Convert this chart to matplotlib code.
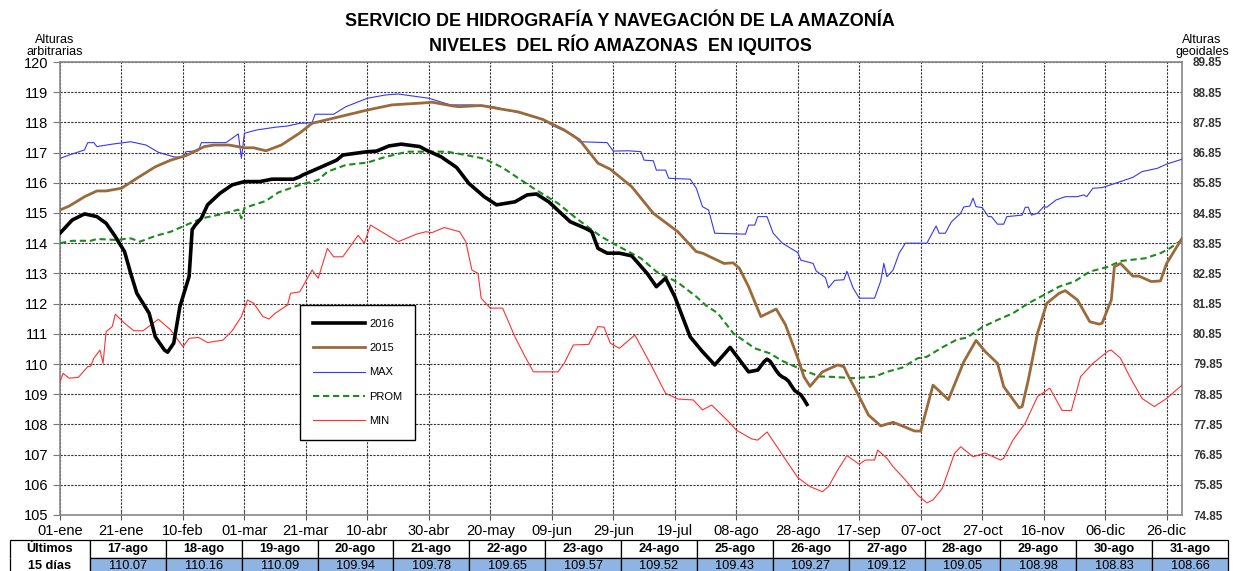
import numpy as np
import matplotlib
matplotlib.use("Agg")
from matplotlib import pyplot as plt

plt.rcParams['font.family'] = ['Liberation Sans', 'DejaVu Sans']

# tick labels along the year (2016, leap year), every 20 days
tick_days = list(range(0, 361, 20))
tick_labels = ["01-ene", "21-ene", "10-feb", "01-mar", "21-mar", "10-abr", "30-abr",
               "20-may", "09-jun", "29-jun", "19-jul", "08-ago", "28-ago", "17-sep",
               "07-oct", "27-oct", "16-nov", "06-dic", "26-dic"]

# last 15 days table (17-ago .. 31-ago)
tail_dates = ["17-ago", "18-ago", "19-ago", "20-ago", "21-ago", "22-ago", "23-ago", "24-ago",
              "25-ago", "26-ago", "27-ago", "28-ago", "29-ago", "30-ago", "31-ago"]
tail_values = [110.07, 110.16, 110.09, 109.94, 109.78, 109.65, 109.57, 109.52,
               109.43, 109.27, 109.12, 109.05, 108.98, 108.83, 108.66]
tail_days = list(range(229, 244))

d2016 = [0, 4, 8, 12, 15, 18, 21, 23, 25, 29, 31, 34, 35, 37, 39, 42, 43, 44, 46, 48, 52, 56,
         60, 65, 69, 76, 78, 79, 84, 90, 92, 100, 103, 107, 111, 117, 119, 124, 129, 133, 138,
         142, 148, 152, 155, 159, 166, 171, 173, 175, 178, 182, 186, 191, 194, 197, 200, 205,
         209, 213, 218, 224, 227] + tail_days
v2016 = [114.33, 114.77, 114.97, 114.88, 114.66, 114.22, 113.72, 113.0, 112.34, 111.68, 110.90,
         110.46, 110.39, 110.69, 111.9, 112.9, 114.45, 114.6, 114.83, 115.27, 115.65, 115.93,
         116.04, 116.04, 116.12, 116.12, 116.2, 116.26, 116.48, 116.75, 116.92, 117.03, 117.05,
         117.22, 117.28, 117.2, 117.09, 116.86, 116.51, 115.98, 115.54, 115.27, 115.37, 115.6,
         115.63, 115.37, 114.71, 114.49, 114.38, 113.83, 113.67, 113.67, 113.58, 113.0, 112.56,
         112.84, 112.23, 110.90, 110.41, 109.97, 110.55, 109.74, 109.8] + tail_values

d2015 = [0, 3, 8, 12, 15, 20, 25, 31, 36, 41, 47, 50, 55, 60, 63, 67, 72, 78, 82, 91, 100, 108,
         119, 121, 128, 130, 137, 143, 149, 157, 164, 169, 175, 179, 186, 193, 201, 207, 209,
         216, 219, 221, 224, 228, 233, 236, 240, 242, 244, 248, 253, 255, 256, 260, 263, 267,
         271, 274, 278, 280, 284, 289, 294, 298, 301, 305, 307, 312, 313, 315, 318, 321, 325,
         327, 331, 335, 338, 339, 342, 343, 345, 349, 351, 355, 358, 360, 365]
v2015 = [115.1, 115.23, 115.54, 115.73, 115.73, 115.82, 116.15, 116.53, 116.75, 116.9, 117.2,
         117.25, 117.25, 117.16, 117.16, 117.06, 117.25, 117.65, 117.97, 118.19, 118.41, 118.58,
         118.65, 118.67, 118.54, 118.52, 118.56, 118.45, 118.35, 118.10, 117.75, 117.42, 116.65,
         116.45, 115.87, 114.99, 114.38, 113.72, 113.67, 113.33, 113.35, 113.17, 112.56, 111.57,
         111.82, 111.3, 110.2, 109.58, 109.26, 109.74, 109.97, 109.91, 109.69, 108.92, 108.31,
         107.95, 108.07, 107.95, 107.78, 107.78, 109.3, 108.82, 110.07, 110.78, 110.41, 110.02,
         109.25, 108.55, 108.59, 109.47, 111.02, 112.01, 112.34, 112.43, 112.12, 111.40, 111.32,
         111.35, 112.12, 113.22, 113.33, 112.91, 112.91, 112.73, 112.75, 113.33, 114.16]

dmax = [0, 3, 8, 9, 11, 12, 17, 23, 28, 32, 37, 40, 41, 45, 46, 54, 58, 59, 60, 64, 70, 74, 78,
        82, 83, 89, 93, 100, 106, 110, 115, 120, 127, 134, 141, 150, 156, 161, 167, 169, 178,
        180, 185, 189, 190, 193, 194, 197, 198, 205, 207, 209, 211, 213, 223, 224, 226, 227,
        230, 232, 235, 240, 241, 245, 246, 249, 250, 252, 255, 256, 258, 260, 265, 267, 268,
        269, 271, 273, 275, 282, 285, 286, 288, 290, 293, 294, 296, 297, 298, 300, 302, 303,
        305, 307, 308, 313, 314, 315, 316, 318, 320, 321, 324, 327, 331, 333, 334, 336, 339,
        345, 349, 352, 357, 360, 365]
vmax = [116.81, 116.92, 117.09, 117.33, 117.33, 117.2, 117.28, 117.36, 117.25, 117.01, 116.86,
        116.84, 117.03, 117.06, 117.33, 117.33, 117.62, 116.81, 117.64, 117.75, 117.84, 117.88,
        117.97, 117.99, 118.27, 118.27, 118.52, 118.80, 118.91, 118.94, 118.87, 118.80, 118.58,
        118.58, 118.52, 118.30, 118.14, 117.86, 117.58, 117.36, 117.33, 117.05, 117.06, 117.03,
        116.75, 116.73, 116.42, 116.42, 116.15, 116.12, 115.82, 115.21, 115.1, 114.33, 114.3,
        114.6, 114.6, 114.88, 114.88, 114.33, 114.0, 113.69, 113.44, 113.33, 113.08, 112.86,
        112.52, 112.77, 112.79, 113.07, 112.52, 112.18, 112.18, 112.75, 113.33, 112.89, 113.11,
        113.67, 114.0, 114.0, 114.57, 114.33, 114.33, 114.71, 114.99, 115.2, 115.23, 115.49,
        115.21, 115.18, 114.88, 114.88, 114.63, 114.63, 114.88, 114.93, 115.19, 115.19, 114.93,
        114.99, 115.21, 115.19, 115.43, 115.54, 115.54, 115.6, 115.54, 115.82, 115.84, 116.04,
        116.18, 116.37, 116.48, 116.62, 116.78]

dprom = [0, 4, 10, 12, 18, 23, 26, 31, 36, 41, 46, 52, 58, 59, 60, 67, 71, 78, 84, 87, 93, 100,
         106, 113, 119, 126, 132, 137, 139, 144, 154, 162, 168, 176, 182, 189, 194, 201, 207,
         210, 214, 219, 226, 231, 235, 241, 247, 252, 258, 265, 269, 274, 279, 282, 287, 292,
         295, 300, 305, 310, 315, 320, 325, 330, 335, 341, 345, 353, 358, 361, 365]
vprom = [114.0, 114.08, 114.08, 114.14, 114.11, 114.16, 114.05, 114.24, 114.38, 114.60, 114.82,
         114.95, 115.11, 114.82, 115.17, 115.4, 115.68, 115.93, 116.09, 116.37, 116.59, 116.67,
         116.86, 117.03, 117.03, 117.03, 116.92, 116.82, 116.75, 116.5, 115.82, 115.32, 114.82,
         114.22, 113.88, 113.5, 113.06, 112.7, 112.23, 111.95, 111.68, 111.02, 110.52, 110.35,
         110.1, 109.83, 109.59, 109.57, 109.53, 109.58, 109.74, 109.88, 110.19, 110.24, 110.55,
         110.82, 110.87, 111.22, 111.46, 111.68, 112.01, 112.28, 112.56, 112.73, 113.06, 113.22,
         113.41, 113.50, 113.67, 113.83, 114.11]

dmin = [0, 1, 3, 6, 9, 10, 11, 13, 14, 15, 17, 18, 21, 24, 27, 32, 36, 40, 42, 45, 48, 53, 56,
        59, 61, 63, 66, 68, 70, 74, 75, 78, 82, 84, 87, 89, 92, 97, 99, 101, 110, 116, 119, 121,
        125, 130, 132, 134, 136, 137, 140, 144, 148, 151, 154, 162, 164, 167, 172, 175, 177,
        179, 182, 187, 192, 197, 201, 206, 209, 212, 218, 220, 225, 227, 230, 234, 235, 240,
        244, 248, 250, 253, 256, 260, 262, 265, 266, 269, 271, 275, 279, 282, 284, 287, 291,
        293, 297, 301, 306, 307, 310, 314, 318, 322, 326, 329, 332, 336, 341, 342, 345, 348,
        352, 356, 360, 365]
vmin = [109.41, 109.69, 109.53, 109.56, 109.91, 109.93, 110.19, 110.46, 110.02, 111.07, 111.24,
        111.65, 111.35, 111.10, 111.10, 111.48, 111.13, 110.57, 110.85, 110.88, 110.71, 110.79,
        111.10, 111.57, 112.12, 112.01, 111.57, 111.49, 111.68, 111.95, 112.34, 112.39, 113.11,
        112.84, 113.83, 113.55, 113.55, 114.26, 114.0, 114.6, 114.05, 114.3, 114.38, 114.35,
        114.52, 114.38, 114.05, 113.11, 113.0, 112.18, 111.85, 111.85, 110.90, 110.30, 109.74,
        109.74, 110.02, 110.63, 110.65, 111.24, 111.22, 110.69, 110.52, 110.96, 110.02, 109.03,
        108.84, 108.81, 108.48, 108.64, 108.04, 107.81, 107.52, 107.48, 107.75, 107.15, 106.99,
        106.24, 105.94, 105.77, 105.94, 106.49, 106.97, 106.68, 106.82, 106.82, 107.15, 106.88,
        106.60, 106.16, 105.66, 105.40, 105.5, 105.88, 107.04, 107.26, 106.93, 107.05, 106.82,
        106.88, 107.48, 108.04, 108.92, 109.20, 108.46, 108.46, 109.58, 110.02, 110.43, 110.46,
        110.19, 109.58, 108.86, 108.59, 108.86, 109.30]

# geoidal heights = arbitrary heights - 30.15
geo_ticks = np.arange(74.85, 89.9, 1)

fig = plt.figure(figsize=(12.33, 5.71), dpi=100)
ax = fig.add_axes([60 / 1233, 56 / 571, 1122 / 1233, 453 / 571])

ax.plot(dmax, vmax, color='#3838F0', lw=0.8, label='MAX', zorder=3)
ax.plot(dmin, vmin, color='#FF3030', lw=0.8, label='MIN', zorder=3)
ax.plot(dprom, vprom, color='#1A8C1A', lw=1.5, ls=(0, (3, 1.8)), label='PROM', zorder=4)
ax.plot(d2015, v2015, color='#9A6A3A', lw=2.0, label='2015', zorder=5)
ax.plot(d2016, v2016, color='black', lw=2.6, label='2016', zorder=6)

ax.set_xlim(0, 365)
ax.set_ylim(105, 120)
ax.set_xticks(tick_days)
ax.set_xticklabels(tick_labels, fontsize=10.5)
ax.set_yticks(np.arange(105, 121, 1))
ax.tick_params(axis='y', labelsize=10.5, direction='out', length=5, color='#777777')
ax.tick_params(axis='x', direction='inout', length=7, color='#555555', pad=3)
ax.grid(True, color='#333333', ls=(0, (2, 1.2)), lw=0.8)
for s in ax.spines.values():
    s.set_color('#888888')
    s.set_linewidth(1.2)

ax2 = ax.twinx()
ax2.set_ylim(74.85, 89.85)
ax2.set_yticks(geo_ticks)
ax2.set_yticklabels([f"{t:.2f}" for t in geo_ticks], fontsize=8.5,
                    fontweight='bold', color='#333333')
ax2.tick_params(axis='y', length=0, pad=8)
for s in ax2.spines.values():
    s.set_visible(False)

h, l = ax.get_legend_handles_labels()
order = [l.index(n) for n in ['2016', '2015', 'MAX', 'PROM', 'MIN']]
leg = ax.legend([h[i] for i in order], [l[i] for i in order], loc='upper left',
                bbox_to_anchor=(0.214, 0.463), fontsize=8, labelspacing=1.3,
                handlelength=4.6, handletextpad=0.4, borderpad=1.2, borderaxespad=0,
                fancybox=False, edgecolor='black', framealpha=1, shadow=False)
leg.get_frame().set_linewidth(1.0)
leg.set_zorder(10)

fig.text(0.503, 0.963, "SERVICIO DE HIDROGRAFÍA Y NAVEGACIÓN DE LA AMAZONÍA", ha='center',
         va='center', fontsize=13, fontweight='bold')
fig.text(0.503, 0.921, "NIVELES  DEL RÍO AMAZONAS  EN IQUITOS", ha='center', va='center',
         fontsize=13, fontweight='bold')
fig.text(55 / 1233, 0.919, "Alturas\narbitrarias", ha='center', va='center', fontsize=9,
         linespacing=0.95)
fig.text(1202 / 1233, 0.919, "Alturas\ngeoidales", ha='center', va='center', fontsize=9,
         linespacing=0.95)

# last 15 days table
axt = fig.add_axes([10 / 1233, -4 / 571, 1218 / 1233, 35 / 571])
axt.axis('off')
cells = [["Últimos"] + tail_dates, ["15 días"] + [f"{v:.2f}" for v in tail_values]]
first_w = 80 / 1218
col_w = [first_w] + [(1 - first_w) / len(tail_dates)] * len(tail_dates)
tab = axt.table(cellText=cells, colWidths=col_w, bbox=[0, 0, 1, 1], cellLoc='center')
tab.auto_set_font_size(False)
tab.set_fontsize(9.2)
for (r, c), cell in tab.get_celld().items():
    cell.set_linewidth(0.9)
    cell.set_edgecolor('black')
    if r == 0:
        cell.get_text().set_fontweight('bold')
    if c == 0:
        cell.get_text().set_fontweight('bold')
        cell.visible_edges = 'LTR' if r == 0 else 'LBR'
    elif r == 1:
        cell.set_facecolor('#8DB4E2')

fig.savefig("out.png", dpi=100)
